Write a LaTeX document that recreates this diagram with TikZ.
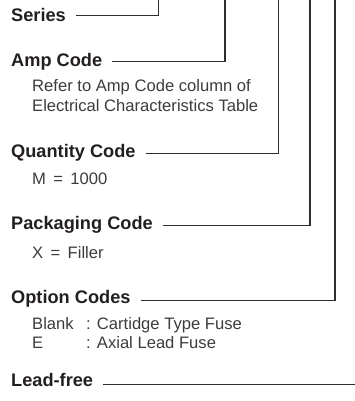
\documentclass[tikz,border=0pt]{standalone}
\usepackage{fontspec}
\setmainfont{Liberation Sans}
\usetikzlibrary{positioning, calc}
\definecolor{headcol}{HTML}{231F20}
\definecolor{notecol}{HTML}{3C3C3C}
\definecolor{linecol}{HTML}{2E2E2E}
\tikzset{
    fieldname/.style={anchor=base west, inner sep=0pt, text=headcol,
                      font=\fontsize{18.2}{20}\selectfont\bfseries},
    fieldnote/.style={anchor=base west, inner sep=0pt, text=notecol,
                      font=\fontsize{16.6}{19}\selectfont},
    leader/.style={draw=linecol, line width=1.2pt},
}

\begin{document}
\begin{tikzpicture}[x=1pt, y=-1pt]
    \useasboundingbox (0,0) rectangle (355,401);

    % ── Top ends of the leaders ───────────────────────────────────
    \coordinate (t1) at (158.5, 0);
    \coordinate (t2) at (225, 0);
    \coordinate (t3) at (278.5, 0);
    \coordinate (t4) at (310, 0);
    \coordinate (t5) at (335, 0);
    \coordinate (edge) at (355, 0);

    % ── Field names ───────────────────────────────────────────────
    \node[fieldname] (series) at (11, 21.5)  {Series};
    \node[fieldname] (amp)    at (11, 66.7)  {Amp Code};
    \node[fieldname] (qty)    at (11, 157.3) {Quantity Code};
    \node[fieldname] (pack)   at (11, 229.3) {Packaging Code};
    \node[fieldname] (opt)    at (11, 303.3) {Option Codes};
    \node[fieldname] (lead)   at (11, 386.7) {Lead-free};

    % ── Notes ─────────────────────────────────────────────────────
    \node[fieldnote] (amp1)  at (32, 91.7)  {Refer to Amp Code column of};
    \node[fieldnote] (amp2)  at (32, 111)   {Electrical Characteristics Table};
    \node[fieldnote] (qty1)  at (32, 184.3) {M\, =\, 1000};
    \node[fieldnote] (pack1) at (32, 258.3) {X\, =\, Filler};
    \node[fieldnote] (opt1k) at (32, 329.3) {Blank};
    \node[fieldnote] (opt1v) at (86, 329.3) {: Cartidge Type Fuse};
    \node[fieldnote] (opt2k) at (32, 348.3) {E};
    \node[fieldnote] (opt2v) at (86, 348.3) {: Axial Lead Fuse};

    % ── Leaders ───────────────────────────────────────────────────
    \coordinate (leadend) at (lead.base east -| edge);
    \draw[leader] ([xshift=10pt, yshift=6pt]series.base east) -| (t1);
    \draw[leader] ([xshift=10pt, yshift=5pt]amp.base east) -| (t2);
    \draw[leader] ([xshift=10pt, yshift=3.5pt]qty.base east) -| (t3);
    \draw[leader] ([xshift=10pt, yshift=3.5pt]pack.base east) -| (t4);
    \draw[leader] ([xshift=10pt, yshift=2.5pt]opt.base east) -| (t5);
    \draw[leader] ([xshift=10pt, yshift=2pt]lead.base east) -- ([yshift=2pt]leadend);

\end{tikzpicture}
\end{document}
